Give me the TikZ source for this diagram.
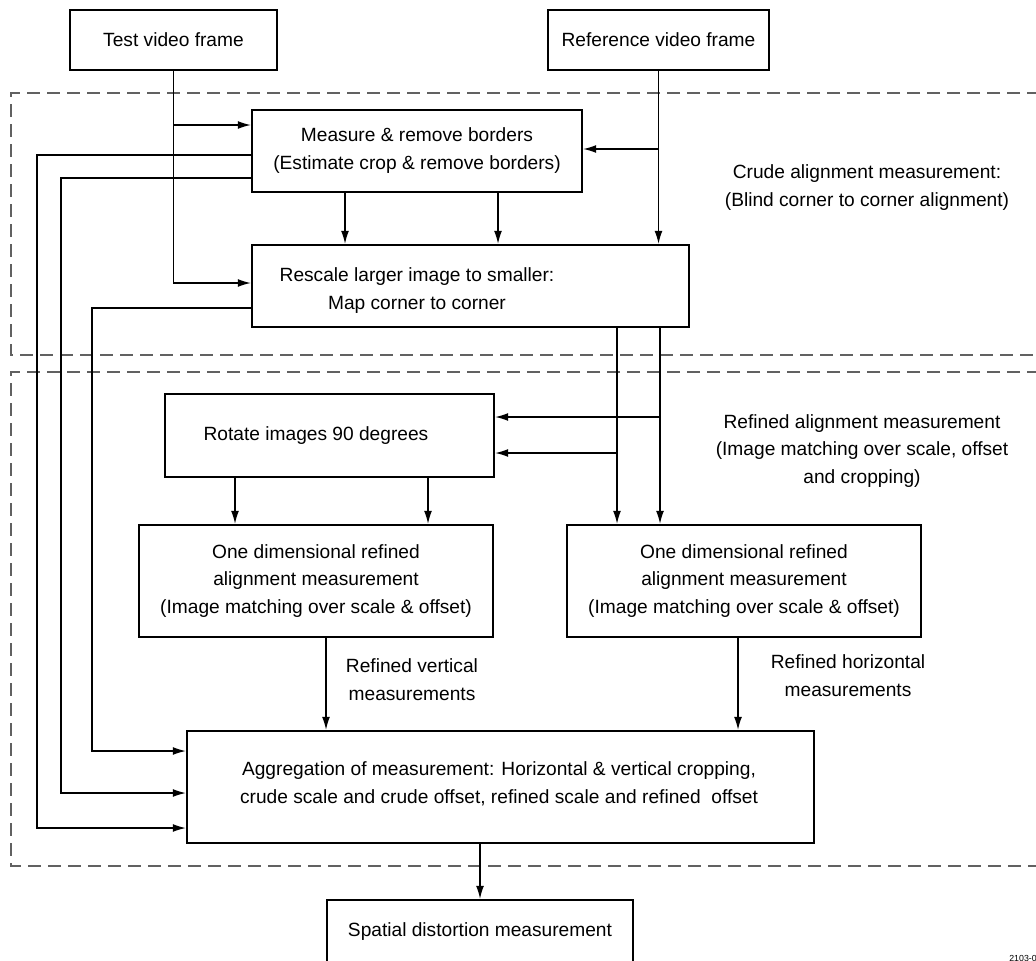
\documentclass[tikz,border=0pt]{standalone}
\usepackage{fontspec}
\setmainfont{Liberation Sans}
\usetikzlibrary{arrows.meta, positioning, calc}

\begin{document}
\begin{tikzpicture}[
    x=0.2mm, y=-0.2mm,
    font=\fontsize{10.9}{15.9}\selectfont,
    box/.style={draw, line width=1.4pt, inner sep=0pt, align=center},
    txt/.style={align=center, inner sep=0pt},
    region/.style={draw=black!62, line width=1.1pt, dash pattern=on 2.6mm off 1.4mm},
    wire/.style={line width=0.7pt},
    arr/.style={wire, -{Latex[length=2.6mm,width=1.6mm]}},
  ]
    \useasboundingbox (0,0) rectangle (1036,961);

    % dashed regions
    \draw[region] (1060,93) -- (11,93) -- (11,355) -- (1060,355);
    \draw[region] (1060,372) -- (11,372) -- (11,866) -- (1060,866);

    % boxes
    \node[box, minimum width=41.4mm, minimum height=12mm] (test) at (173.5,40) {Test video frame};
    \node[box, minimum width=44.2mm, minimum height=12mm] (ref) at (658.5,40) {Reference video frame};
    \node[box, minimum width=66mm, minimum height=16.4mm] (measure) at (417,151) {Measure \& remove borders\\(Estimate crop \& remove borders)};
    \node[box, minimum width=87.4mm, minimum height=16.4mm] (rescale) at (470.5,286) {};
    \node[txt] (rescaletext) at (417,291) {Rescale larger image to smaller:\\Map corner to corner};
    \node[box, minimum width=65.8mm, minimum height=16.6mm] (rotate) at (329.5,435.5) {};
    \node[txt] (rotatetext) at (316,436) {Rotate images 90 degrees};
    \node[box, minimum width=70.8mm, minimum height=22.4mm] (onel) at (316,581) {One dimensional refined\\alignment measurement\\(Image matching over scale \& offset)};
    \node[box, minimum width=70.8mm, minimum height=22.4mm] (oner) at (744,581) {One dimensional refined\\alignment measurement\\(Image matching over scale \& offset)};
    \node[box, minimum width=125.4mm, minimum height=22.4mm] (agg) at (500.5,787) {};
    \node[txt] (aggtext) at (499,784) {Aggregation of measurement: Horizontal \& vertical cropping,\\crude scale and crude offset, refined scale and refined\ \ offset};
    \node[box, minimum width=61.2mm, minimum height=12.8mm] (spatial) at (480,932) {Spatial distortion measurement};

    % labels
    \node[txt] (crudelbl) at (867,188) {Crude alignment measurement:\\(Blind corner to corner alignment)};
    \node[txt] (refinedlbl) at (862,451) {Refined alignment measurement\\(Image matching over scale, offset\\and cropping)};
    \node[txt] (vertlbl) at (412,680) {Refined vertical\\measurements};
    \node[txt] (horlbl) at (848,676) {Refined horizontal\\measurements};
    \node[inner sep=0pt, anchor=west, font=\fontsize{5}{6}\selectfont] (figid) at (1009,958) {2103-0};

    % test and reference inputs
    \draw[arr] (test.south) |- (rescale.west |- 0,283);
    \draw[arr] (test.south |- 0,125) -- (measure.west |- 0,125);
    \draw[arr] (ref.south) -- (ref.south |- rescale.north);
    \draw[arr] (ref.south |- 0,149) -- (measure.east |- 0,149);

    % crude stage
    \draw[arr] (measure.south -| 345,0) -- (rescale.north -| 345,0);
    \draw[arr] (measure.south -| 498,0) -- (rescale.north -| 498,0);

    % crude results to aggregation
    \draw[arr] (measure.west |- 0,155) -- (37,155) |- (agg.west |- 0,828);
    \draw[arr] (measure.west |- 0,178) -- (61,178) |- (agg.west |- 0,793);
    \draw[arr] (rescale.west |- 0,308) -- (92,308) |- (agg.west |- 0,751);

    % refined stage
    \draw[arr] (rescale.south -| 617,0) -- (oner.north -| 617,0);
    \draw[arr] (rescale.south -| 660,0) -- (oner.north -| 660,0);
    \draw[arr] (660,417) -- (rotate.east |- 0,417);
    \draw[arr] (617,453) -- (rotate.east |- 0,453);
    \draw[arr] (rotate.south -| 235,0) -- (onel.north -| 235,0);
    \draw[arr] (rotate.south -| 428,0) -- (onel.north -| 428,0);
    \draw[arr] (onel.south -| 326,0) -- (agg.north -| 326,0);
    \draw[arr] (oner.south -| 738,0) -- (agg.north -| 738,0);
    \draw[arr] (agg.south -| 480,0) -- (spatial.north -| 480,0);
  \end{tikzpicture}
\end{document}
